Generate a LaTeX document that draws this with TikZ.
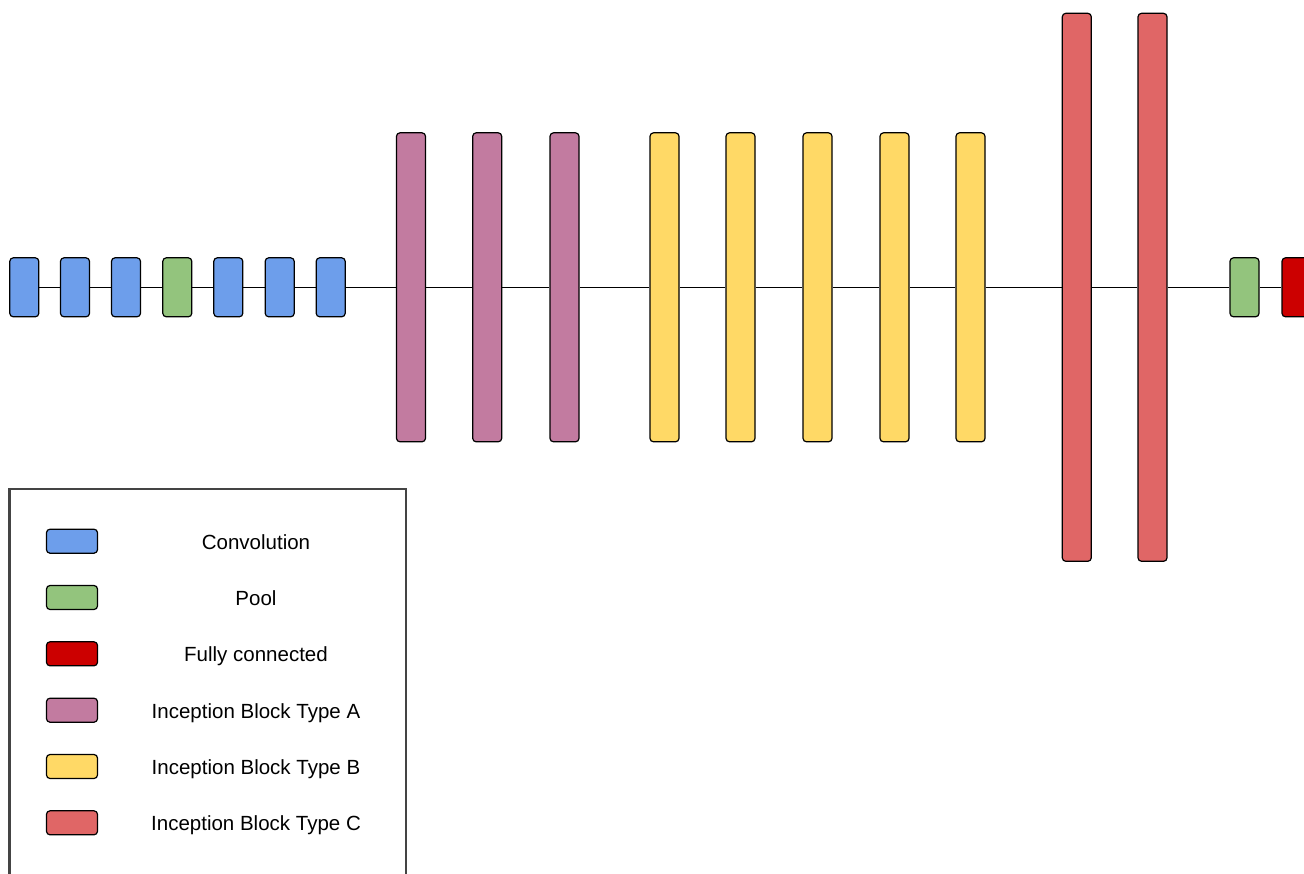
\documentclass[tikz,border=0pt]{standalone}
\usepackage{fontspec}
\setmainfont{Liberation Sans}
\definecolor{convc}{HTML}{6D9EEB}
\definecolor{poolc}{HTML}{93C47D}
\definecolor{fcc}{HTML}{CC0000}
\definecolor{incA}{HTML}{C27BA0}
\definecolor{incB}{HTML}{FFD966}
\definecolor{incC}{HTML}{E06666}
\definecolor{legborder}{HTML}{444444}
\begin{document}
\begin{tikzpicture}[x=1pt,y=-1pt,
  blk/.style={draw=black,line width=1.2pt,rounded corners=3.5pt,inner sep=0pt,minimum width=29pt},
  small/.style={blk,minimum height=59pt},
  mid/.style={blk,minimum height=309pt},
  tall/.style={blk,minimum height=548pt},
  sw/.style={draw=black,line width=1.2pt,rounded corners=3.5pt,inner sep=0pt,minimum width=51pt,minimum height=24pt},
  lbl/.style={font=\fontsize{20.5}{24}\selectfont,inner sep=0pt,anchor=base},
  link/.style={draw=black,line width=1pt}]
\useasboundingbox (0,0) rectangle (1304,873);
\clip (0,0) rectangle (1304,873);
\def\cy{287.3}
% blocks
\node[small,fill=convc] (c1) at (24.3,\cy) {};
\node[small,fill=convc] (c2) at (75,\cy) {};
\node[small,fill=convc] (c3) at (126,\cy) {};
\node[small,fill=poolc] (p1) at (177.3,\cy) {};
\node[small,fill=convc] (c4) at (228.3,\cy) {};
\node[small,fill=convc] (c5) at (279.7,\cy) {};
\node[small,fill=convc] (c6) at (330.7,\cy) {};
\node[mid,fill=incA] (a1) at (411,\cy) {};
\node[mid,fill=incA] (a2) at (487.2,\cy) {};
\node[mid,fill=incA] (a3) at (564.5,\cy) {};
\node[mid,fill=incB] (b1) at (664.5,\cy) {};
\node[mid,fill=incB] (b2) at (740.5,\cy) {};
\node[mid,fill=incB] (b3) at (817.5,\cy) {};
\node[mid,fill=incB] (b4) at (894.5,\cy) {};
\node[mid,fill=incB] (b5) at (970.5,\cy) {};
\node[tall,fill=incC] (k1) at (1076.8,\cy) {};
\node[tall,fill=incC] (k2) at (1152.5,\cy) {};
\node[small,fill=poolc] (p2) at (1244.5,\cy) {};
\node[small,fill=fcc] (f1) at (1296.5,\cy) {};
% connectors
\foreach \u/\v in {c1/c2,c2/c3,c3/p1,p1/c4,c4/c5,c5/c6,c6/a1,a1/a2,a2/a3,a3/b1,b1/b2,b2/b3,b3/b4,b4/b5,b5/k1,k1/k2,k2/p2,p2/f1}
  \draw[link] (\u.east) -- (\v.west);
% legend
\draw[draw=legborder,line width=2.2pt] (406,900) -- (406,489) -- (9.5,489) -- (9.5,900);
\node[sw,fill=convc] (l1) at (72,541.2) {};
\node[sw,fill=poolc] (l2) at (72,597.5) {};
\node[sw,fill=fcc] (l3) at (72,653.8) {};
\node[sw,fill=incA] (l4) at (72,710.2) {};
\node[sw,fill=incB] (l5) at (72,766.5) {};
\node[sw,fill=incC] (l6) at (72,822.8) {};
\node[lbl] (t1) at (256,549.2) {Convolution};
\node[lbl] (t2) at (256,605.5) {Pool};
\node[lbl] (t3) at (256,661.8) {Fully connected};
\node[lbl] (t4) at (256,718.2) {Inception Block Type A};
\node[lbl] (t5) at (256,774.5) {Inception Block Type B};
\node[lbl] (t6) at (256,830.8) {Inception Block Type C};
\end{tikzpicture}
\end{document}
